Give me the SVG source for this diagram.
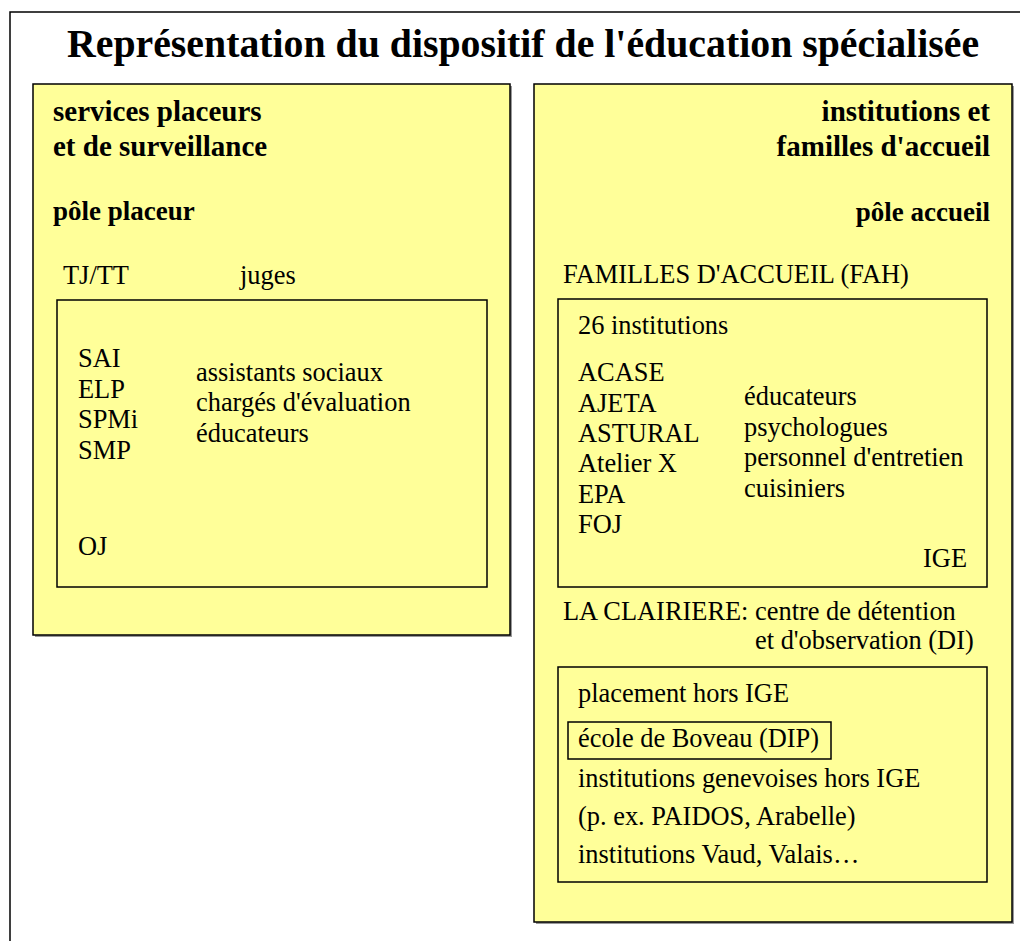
<svg xmlns="http://www.w3.org/2000/svg" width="1020" height="941" viewBox="0 0 1020 941">
<style>
.panel{fill:#ffff99;stroke:#000;stroke-width:1.5}
.box{fill:none;stroke:#000;stroke-width:1.5}
.sh{fill:#999}
text{font-family:"Liberation Serif","Times New Roman",serif;fill:#000}
.t{font-size:26.4px}
.b{font-size:29px;font-weight:bold}
.p{font-size:27px;font-weight:bold}
.r{text-anchor:end}
</style>
<rect x="0" y="0" width="1020" height="941" fill="#fff"/>
<rect x="10" y="12" width="1030" height="960" fill="none" stroke="#000" stroke-width="1.5"/>
<text x="67" y="57" font-size="39.8" font-weight="bold">Représentation du dispositif de l'éducation spécialisée</text>
<g id="pole-placeur">
<rect class="sh" x="35" y="86" width="477" height="551"/>
<rect class="panel" x="33" y="84" width="477" height="551"/>
<text class="b" x="53" y="121">services placeurs</text>
<text class="b" x="53" y="156">et de surveillance</text>
<text class="p" x="53" y="220">pôle placeur</text>
<text class="t" x="63" y="284">TJ/TT</text>
<text class="t" x="240" y="284">juges</text>
<rect class="box" x="57" y="300" width="430" height="287"/>
<text class="t" x="78" y="367">SAI</text>
<text class="t" x="78" y="398">ELP</text>
<text class="t" x="78" y="428">SPMi</text>
<text class="t" x="78" y="459">SMP</text>
<text class="t" x="78" y="555">OJ</text>
<text class="t" x="196" y="381">assistants sociaux</text>
<text class="t" x="196" y="411">chargés d'évaluation</text>
<text class="t" x="196" y="442">éducateurs</text>
</g>
<g id="pole-accueil">
<rect class="sh" x="536" y="86" width="478" height="838"/>
<rect class="panel" x="534" y="84" width="478" height="838"/>
<text class="b r" x="990" y="121">institutions et</text>
<text class="b r" x="990" y="156">familles d'accueil</text>
<text class="p r" x="990" y="221">pôle accueil</text>
<text class="t" x="563" y="283">FAMILLES D'ACCUEIL (FAH)</text>
<rect class="box" x="558" y="299" width="429" height="288"/>
<text class="t" x="578" y="334">26 institutions</text>
<text class="t" x="578" y="381">ACASE</text>
<text class="t" x="578" y="412">AJETA</text>
<text class="t" x="578" y="442">ASTURAL</text>
<text class="t" x="578" y="472">Atelier X</text>
<text class="t" x="578" y="503">EPA</text>
<text class="t" x="578" y="533">FOJ</text>
<text class="t" x="744" y="405">éducateurs</text>
<text class="t" x="744" y="436">psychologues</text>
<text class="t" x="744" y="466">personnel d'entretien</text>
<text class="t" x="744" y="497">cuisiniers</text>
<text class="t r" x="967" y="567">IGE</text>
<text class="t" x="563" y="620">LA CLAIRIERE: centre de détention</text>
<text class="t" x="755" y="649">et d'observation (DI)</text>
<rect class="box" x="558" y="667" width="429" height="215"/>
<text class="t" x="578" y="702">placement hors IGE</text>
<rect class="box" x="568" y="722" width="263" height="37"/>
<text class="t" x="578" y="747">école de Boveau (DIP)</text>
<text class="t" x="578" y="787">institutions genevoises hors IGE</text>
<text class="t" x="578" y="825">(p. ex. PAIDOS, Arabelle)</text>
<text class="t" x="578" y="863">institutions Vaud, Valais…</text>
</g>
<g id="connectors"></g>
</svg>
